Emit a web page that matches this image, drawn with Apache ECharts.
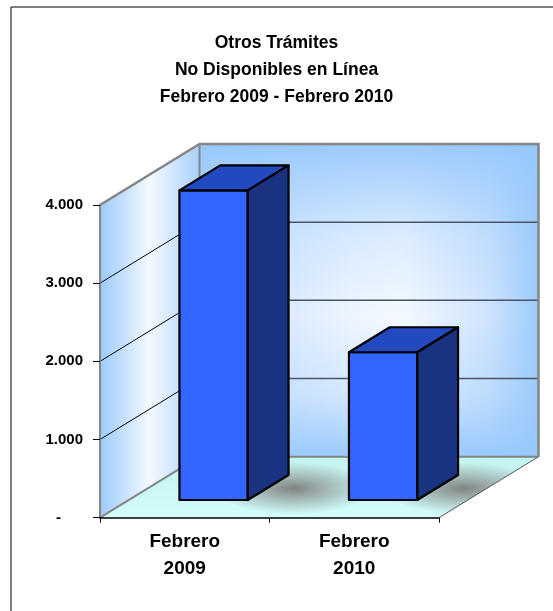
<!DOCTYPE html>
<html>
<head>
<meta charset="utf-8">
<script src="https://cdn.jsdelivr.net/npm/echarts@6/dist/echarts.min.js"></script>
<style>
  html, body { margin: 0; padding: 0; background: #ffffff; }
  #chart { width: 553px; height: 611px; }
</style>
</head>
<body>
<div id="chart"></div>
<script>
// Monthly counts of procedures not available online
const categories = ['Febrero\n2009', 'Febrero\n2010'];
const tramites = [3960, 1890];
const yTicks = [0, 1000, 2000, 3000, 4000];
const titleLines = ['Otros Trámites', 'No Disponibles en Línea', 'Febrero 2009 - Febrero 2010'];

// Pseudo-3D box: pixel offset from the front plane to the back wall,
// and where each bar sits inside that depth.
const DEPTH = [99.5, -61];
const BAR_FRONT = 0.29;
const BAR_BACK = 0.70;
const BAR_WIDTH = 0.403;

const FONT = '"Liberation Sans", Arial, sans-serif';
const yMin = yTicks[0];
const yMax = yTicks[yTicks.length - 1];

function fmt(v) {
  return String(v).replace(/\B(?=(\d{3})+(?!\d))/g, '.');
}

const chart = echarts.init(document.getElementById('chart'), null, { renderer: 'canvas' });

// Walls, floor, shadows and wall gridlines
function renderBox(params, api) {
  const cs = params.coordSys;
  const x0 = cs.x, x1 = cs.x + cs.width;
  const yb = api.coord([0, yMin])[1];
  const yt = api.coord([0, yMax])[1];
  const dx = DEPTH[0], dy = DEPTH[1];
  const grey = '#858585';
  const children = [];
  const floorPts = [[x0, yb], [x1, yb], [x1 + dx, yb + dy], [x0 + dx, yb + dy]];

  // back wall
  children.push({
    type: 'rect',
    shape: { x: x0 + dx, y: yt + dy, width: x1 - x0, height: yb - yt },
    style: {
      fill: {
        type: 'linear', x: 0, y: 0, x2: 1, y2: 0,
        colorStops: [
          { offset: 0, color: '#c4defc' },
          { offset: 0.45, color: '#eef5ff' },
          { offset: 0.6, color: '#f4f9ff' },
          { offset: 0.85, color: '#cfe4fd' },
          { offset: 1, color: '#9ccbfb' }
        ]
      }
    }
  });
  children.push({
    type: 'rect',
    shape: { x: x0 + dx, y: yt + dy, width: x1 - x0, height: yb - yt },
    style: {
      fill: {
        type: 'linear', x: 0, y: 0, x2: 0, y2: 1,
        colorStops: [
          { offset: 0, color: 'rgba(150,200,252,0.95)' },
          { offset: 0.3, color: 'rgba(150,200,252,0.25)' },
          { offset: 0.55, color: 'rgba(150,200,252,0)' },
          { offset: 0.8, color: 'rgba(150,200,252,0.3)' },
          { offset: 1, color: 'rgba(150,200,252,0.95)' }
        ]
      }
    }
  });

  // left wall
  children.push({
    type: 'polygon',
    shape: { points: [[x0, yt], [x0 + dx, yt + dy], [x0 + dx, yb + dy], [x0, yb]] },
    style: {
      fill: {
        type: 'linear', x: 0, y: 0, x2: 1, y2: 0,
        colorStops: [
          { offset: 0, color: '#9ccbfb' },
          { offset: 0.5, color: '#f4f9ff' },
          { offset: 1, color: '#a9d1fb' }
        ]
      }
    }
  });

  // floor
  children.push({
    type: 'polygon',
    shape: { points: floorPts },
    style: {
      fill: {
        type: 'linear', x: 0, y: 0, x2: 0, y2: 1,
        colorStops: [
          { offset: 0, color: '#c2f3ef' },
          { offset: 1, color: '#d2fdfb' }
        ]
      }
    }
  });

  // soft elongated shadows behind and to the right of each bar, kept on the floor
  const band = api.size([1, 0])[0];
  const shadows = [];
  for (let i = 0; i < tramites.length; i++) {
    const c = api.coord([i, yMin]);
    const cx = c[0] + band * BAR_WIDTH / 2 + dx * 0.55 + 20;
    const cy = yb + dy * 0.48;
    shadows.push({
      type: 'circle',
      x: cx,
      y: cy,
      scaleX: 3.1,
      scaleY: 1,
      shape: { cx: 0, cy: 0, r: 26 },
      style: {
        fill: {
          type: 'radial', x: 0.5, y: 0.5, r: 0.5,
          colorStops: [
            { offset: 0, color: 'rgba(125,125,125,0.95)' },
            { offset: 0.4, color: 'rgba(125,125,125,0.55)' },
            { offset: 1, color: 'rgba(125,125,125,0)' }
          ]
        }
      }
    });
  }
  children.push({
    type: 'group',
    clipPath: { type: 'polygon', shape: { points: floorPts } },
    children: shadows
  });

  // gridlines on back and left walls
  yTicks.forEach(function (t) {
    if (t === yMin || t === yMax) return;
    const y = api.coord([0, t])[1];
    children.push({
      type: 'line',
      shape: { x1: x0 + dx, y1: y + dy, x2: x1 + dx, y2: y + dy },
      style: { stroke: '#4a5566', lineWidth: 1.5 }
    });
    children.push({
      type: 'line',
      shape: { x1: x0, y1: y, x2: x0 + dx, y2: y + dy },
      style: { stroke: '#000000', lineWidth: 1 }
    });
  });

  // wall and floor edges
  children.push({
    type: 'polyline',
    shape: { points: [[x0, yt], [x0 + dx, yt + dy], [x1 + dx, yt + dy], [x1 + dx, yb + dy]] },
    style: { stroke: grey, lineWidth: 2.5, fill: null }
  });
  children.push({
    type: 'line',
    shape: { x1: x0 + dx, y1: yt + dy, x2: x0 + dx, y2: yb + dy },
    style: { stroke: grey, lineWidth: 2 }
  });
  children.push({
    type: 'line',
    shape: { x1: x0 + dx, y1: yb + dy, x2: x1 + dx, y2: yb + dy },
    style: { stroke: grey, lineWidth: 2 }
  });
  children.push({
    type: 'line',
    shape: { x1: x0, y1: yb, x2: x0 + dx, y2: yb + dy },
    style: { stroke: grey, lineWidth: 2 }
  });
  children.push({
    type: 'line',
    shape: { x1: x1, y1: yb, x2: x1 + dx, y2: yb + dy },
    style: { stroke: '#555555', lineWidth: 1 }
  });

  return { type: 'group', children: children };
}

// 3D box bars
function renderBar(params, api) {
  const idx = api.value(0);
  const c0 = api.coord([idx, yMin]);
  const c1 = api.coord([idx, api.value(1)]);
  const hw = api.size([1, 0])[0] * BAR_WIDTH / 2;
  const dx = DEPTH[0], dy = DEPTH[1];
  const fx0 = c0[0] - hw + BAR_FRONT * dx, fx1 = c0[0] + hw + BAR_FRONT * dx;
  const fyb = c0[1] + BAR_FRONT * dy, fyt = c1[1] + BAR_FRONT * dy;
  const bx0 = c0[0] - hw + BAR_BACK * dx, bx1 = c0[0] + hw + BAR_BACK * dx;
  const byb = c0[1] + BAR_BACK * dy, byt = c1[1] + BAR_BACK * dy;
  const edge = { stroke: '#000000', lineWidth: 2.2, lineJoin: 'round' };
  return {
    type: 'group',
    children: [
      {
        type: 'polygon',
        shape: { points: [[fx0, fyt], [fx1, fyt], [fx1, fyb], [fx0, fyb]] },
        style: Object.assign({ fill: '#3366ff' }, edge)
      },
      {
        type: 'polygon',
        shape: { points: [[fx0, fyt], [bx0, byt], [bx1, byt], [fx1, fyt]] },
        style: Object.assign({ fill: '#2249c0' }, edge)
      },
      {
        type: 'polygon',
        shape: { points: [[fx1, fyt], [bx1, byt], [bx1, byb], [fx1, fyb]] },
        style: Object.assign({ fill: '#1a3380' }, edge)
      }
    ]
  };
}

const option = {
  backgroundColor: '#ffffff',
  animation: false,
  title: {
    text: titleLines.join('\n'),
    left: 'center',
    top: 25,
    textStyle: {
      fontFamily: FONT,
      fontSize: 17.5,
      fontWeight: 'bold',
      color: '#000000',
      lineHeight: 27
    }
  },
  graphic: [
    {
      type: 'polyline',
      shape: { points: [[11, 611], [11, 7], [553, 7]] },
      style: { stroke: '#000000', lineWidth: 1, fill: null },
      silent: true
    }
  ],
  grid: { left: 100, right: 114, top: 205, bottom: 93.3 },
  xAxis: {
    type: 'category',
    data: categories,
    z: 10,
    axisLine: { show: true, lineStyle: { color: '#000000', width: 1.5 } },
    axisTick: { show: true, length: 5, lineStyle: { color: '#000000' } },
    axisLabel: {
      fontFamily: FONT,
      fontSize: 19,
      fontWeight: 'bold',
      color: '#000000',
      lineHeight: 27,
      margin: 11
    },
    splitLine: { show: false }
  },
  yAxis: {
    type: 'value',
    min: yMin,
    max: yMax,
    interval: 1000,
    z: 10,
    axisLine: { show: true, lineStyle: { color: '#858585', width: 2 } },
    axisTick: { show: true, length: 7, lineStyle: { color: '#000000' } },
    splitLine: { show: false },
    axisLabel: {
      fontFamily: FONT,
      fontSize: 15,
      fontWeight: 'bold',
      color: '#000000',
      margin: 17,
      formatter: function (v) {
        return v === 0 ? '{z|-}' : fmt(v);
      },
      rich: {
        z: {
          fontFamily: FONT,
          fontSize: 15,
          fontWeight: 'bold',
          color: '#000000',
          padding: [0, 22, 0, 0]
        }
      }
    }
  },
  series: [
    {
      type: 'custom',
      name: 'box',
      z: 1,
      silent: true,
      renderItem: renderBox,
      data: [[0, 0]],
      clip: false
    },
    {
      type: 'custom',
      name: 'Trámites',
      z: 3,
      renderItem: renderBar,
      data: tramites.map(function (v, i) { return [i, v]; }),
      clip: false
    }
  ]
};

chart.setOption(option);
</script>
</body>
</html>
